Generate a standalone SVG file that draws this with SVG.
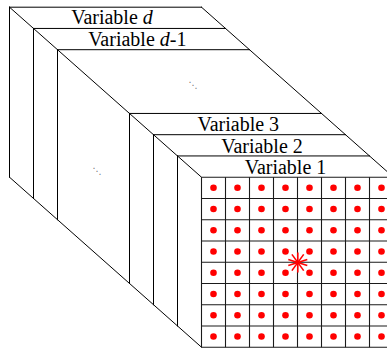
<svg xmlns="http://www.w3.org/2000/svg" width="387" height="348" viewBox="0 0 387 348">
<defs>
<style>
.e{stroke:#000;stroke-width:1;fill:none;stroke-linecap:square}
.g{stroke:#1a1a1a;stroke-width:1.1;fill:none}
.lbl{font-family:"Liberation Serif","Times New Roman",serif;font-size:20px;fill:#000;text-anchor:middle}
.dots{font-family:"DejaVu Sans",sans-serif;font-size:9px;fill:#777;text-anchor:middle}
.pt{fill:#f00;stroke:none}
.ast{stroke:#f00;stroke-width:1.6;fill:none}
</style>
</defs>
<rect width="387" height="348" fill="#fff"/>
<g id="frame" class="e">
<line x1="9.5" y1="7.2" x2="201.5" y2="177.2"/>
<line x1="9.5" y1="177.2" x2="201.5" y2="347.2"/>
<line x1="201.5" y1="7.2" x2="393.5" y2="177.2"/>
</g>
<g id="slab-d">
<line class="e" x1="9.5" y1="7.2" x2="201.5" y2="7.2"/>
<line class="e" x1="9.5" y1="7.2" x2="9.5" y2="177.2"/>
<text class="lbl" x="112" y="24">Variable <tspan font-style="italic">d</tspan></text>
</g>
<g id="slab-d-1">
<line class="e" x1="33.5" y1="28.45" x2="225.5" y2="28.45"/>
<line class="e" x1="33.5" y1="28.45" x2="33.5" y2="198.45"/>
<text class="lbl" x="137.3" y="45.5">Variable <tspan font-style="italic">d</tspan>-1</text>
</g>
<g id="slab-gap">
<line class="e" x1="57.5" y1="49.7" x2="249.5" y2="49.7"/>
<line class="e" x1="57.5" y1="49.7" x2="57.5" y2="219.7"/>
<text class="dots" x="193" y="88">⋱</text>
<text class="dots" x="97" y="173.5">⋱</text>
</g>
<g id="slab-3">
<line class="e" x1="129.5" y1="113.45" x2="321.5" y2="113.45"/>
<line class="e" x1="129.5" y1="113.45" x2="129.5" y2="283.45"/>
<text class="lbl" x="238.3" y="130.7">Variable 3</text>
</g>
<g id="slab-2">
<line class="e" x1="153.5" y1="134.7" x2="345.5" y2="134.7"/>
<line class="e" x1="153.5" y1="134.7" x2="153.5" y2="304.7"/>
<text class="lbl" x="262" y="152.6">Variable 2</text>
</g>
<g id="slab-1">
<line class="e" x1="177.5" y1="155.95" x2="369.5" y2="155.95"/>
<line class="e" x1="177.5" y1="155.95" x2="177.5" y2="325.95"/>
<text class="lbl" x="285.5" y="174.2">Variable 1</text>
</g>
<g id="grid">
<g class="g">
<line x1="201.5" y1="177.2" x2="201.5" y2="347.2"/>
<line x1="225.5" y1="177.2" x2="225.5" y2="347.2"/>
<line x1="249.5" y1="177.2" x2="249.5" y2="347.2"/>
<line x1="273.5" y1="177.2" x2="273.5" y2="347.2"/>
<line x1="297.5" y1="177.2" x2="297.5" y2="347.2"/>
<line x1="321.5" y1="177.2" x2="321.5" y2="347.2"/>
<line x1="345.5" y1="177.2" x2="345.5" y2="347.2"/>
<line x1="369.5" y1="177.2" x2="369.5" y2="347.2"/>
<line x1="201.5" y1="177.2" x2="393.5" y2="177.2"/>
<line x1="201.5" y1="198.45" x2="393.5" y2="198.45"/>
<line x1="201.5" y1="219.7" x2="393.5" y2="219.7"/>
<line x1="201.5" y1="240.95" x2="393.5" y2="240.95"/>
<line x1="201.5" y1="262.2" x2="393.5" y2="262.2"/>
<line x1="201.5" y1="283.45" x2="393.5" y2="283.45"/>
<line x1="201.5" y1="304.7" x2="393.5" y2="304.7"/>
<line x1="201.5" y1="325.95" x2="393.5" y2="325.95"/>
<line x1="201.5" y1="347.2" x2="393.5" y2="347.2"/>
</g>
<g id="points">
<g transform="translate(0,187.8)">
<circle class="pt" cx="213.5" r="3.3"/><circle class="pt" cx="237.5" r="3.3"/><circle class="pt" cx="261.5" r="3.3"/><circle class="pt" cx="285.5" r="3.3"/><circle class="pt" cx="309.5" r="3.3"/><circle class="pt" cx="333.5" r="3.3"/><circle class="pt" cx="357.5" r="3.3"/><circle class="pt" cx="381.5" r="3.3"/>
</g>
<g transform="translate(0,209.05)">
<circle class="pt" cx="213.5" r="3.3"/><circle class="pt" cx="237.5" r="3.3"/><circle class="pt" cx="261.5" r="3.3"/><circle class="pt" cx="285.5" r="3.3"/><circle class="pt" cx="309.5" r="3.3"/><circle class="pt" cx="333.5" r="3.3"/><circle class="pt" cx="357.5" r="3.3"/><circle class="pt" cx="381.5" r="3.3"/>
</g>
<g transform="translate(0,230.3)">
<circle class="pt" cx="213.5" r="3.3"/><circle class="pt" cx="237.5" r="3.3"/><circle class="pt" cx="261.5" r="3.3"/><circle class="pt" cx="285.5" r="3.3"/><circle class="pt" cx="309.5" r="3.3"/><circle class="pt" cx="333.5" r="3.3"/><circle class="pt" cx="357.5" r="3.3"/><circle class="pt" cx="381.5" r="3.3"/>
</g>
<g transform="translate(0,251.55)">
<circle class="pt" cx="213.5" r="3.3"/><circle class="pt" cx="237.5" r="3.3"/><circle class="pt" cx="261.5" r="3.3"/><circle class="pt" cx="285.5" r="3.3"/><circle class="pt" cx="309.5" r="3.3"/><circle class="pt" cx="333.5" r="3.3"/><circle class="pt" cx="357.5" r="3.3"/><circle class="pt" cx="381.5" r="3.3"/>
</g>
<g transform="translate(0,272.8)">
<circle class="pt" cx="213.5" r="3.3"/><circle class="pt" cx="237.5" r="3.3"/><circle class="pt" cx="261.5" r="3.3"/><circle class="pt" cx="285.5" r="3.3"/><circle class="pt" cx="309.5" r="3.3"/><circle class="pt" cx="333.5" r="3.3"/><circle class="pt" cx="357.5" r="3.3"/><circle class="pt" cx="381.5" r="3.3"/>
</g>
<g transform="translate(0,294.05)">
<circle class="pt" cx="213.5" r="3.3"/><circle class="pt" cx="237.5" r="3.3"/><circle class="pt" cx="261.5" r="3.3"/><circle class="pt" cx="285.5" r="3.3"/><circle class="pt" cx="309.5" r="3.3"/><circle class="pt" cx="333.5" r="3.3"/><circle class="pt" cx="357.5" r="3.3"/><circle class="pt" cx="381.5" r="3.3"/>
</g>
<g transform="translate(0,315.3)">
<circle class="pt" cx="213.5" r="3.3"/><circle class="pt" cx="237.5" r="3.3"/><circle class="pt" cx="261.5" r="3.3"/><circle class="pt" cx="285.5" r="3.3"/><circle class="pt" cx="309.5" r="3.3"/><circle class="pt" cx="333.5" r="3.3"/><circle class="pt" cx="357.5" r="3.3"/><circle class="pt" cx="381.5" r="3.3"/>
</g>
<g transform="translate(0,336.55)">
<circle class="pt" cx="213.5" r="3.3"/><circle class="pt" cx="237.5" r="3.3"/><circle class="pt" cx="261.5" r="3.3"/><circle class="pt" cx="285.5" r="3.3"/><circle class="pt" cx="309.5" r="3.3"/><circle class="pt" cx="333.5" r="3.3"/><circle class="pt" cx="357.5" r="3.3"/><circle class="pt" cx="381.5" r="3.3"/>
</g>
</g>
<g id="query" class="ast" transform="translate(297.8,262.5)">
<line x1="0" y1="-10" x2="0" y2="10"/>
<line x1="-5.9" y1="-8.1" x2="5.9" y2="8.1"/>
<line x1="5.9" y1="-8.1" x2="-5.9" y2="8.1"/>
<line x1="-9.5" y1="-3.1" x2="9.5" y2="3.1"/>
<line x1="9.5" y1="-3.1" x2="-9.5" y2="3.1"/>
</g>
</g>
</svg>
